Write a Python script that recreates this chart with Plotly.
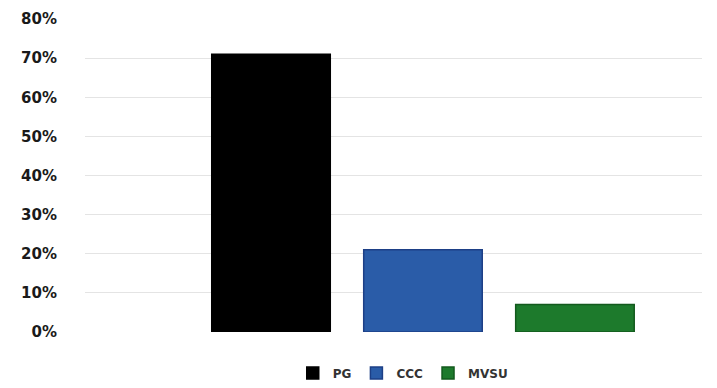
import plotly.graph_objects as go

# Share by institution
institutions = ["PG", "CCC", "MVSU"]
shares = [71, 21, 7]  # percent
fill_colors = ["#000000", "#2a5ca8", "#1d7a2c"]
edge_colors = ["#000000", "#1d3f86", "#135a1d"]
y_ticks = [0, 10, 20, 30, 40, 50, 60, 70, 80]
y_tick_labels = [f"{v}%" for v in y_ticks]

fig = go.Figure()
for name, val, fc, ec in zip(institutions, shares, fill_colors, edge_colors):
    fig.add_trace(go.Bar(
        x=[name], y=[val], name=name,
        width=0.78,
        marker=dict(color=fc, line=dict(color=ec, width=1.5)),
        hovertemplate="%{x}: %{y}%<extra></extra>",
    ))

fig.update_layout(
    width=717, height=388,
    margin=dict(l=85, r=15, t=19, b=56, autoexpand=False),
    paper_bgcolor="white", plot_bgcolor="white",
    barmode="overlay",
    font=dict(family="DejaVu Sans", size=14, color="#1a1a1a"),
    showlegend=True,
    legend=dict(
        orientation="h", x=0.515, xanchor="center", y=-0.131, yanchor="middle",
        font=dict(family="DejaVu Sans", size=12, color="#333333", weight="bold"),
        itemwidth=30, traceorder="normal",
    ),
    xaxis=dict(
        type="category", range=[-1.224, 2.836],
        showticklabels=False, showgrid=False, zeroline=False, showline=False,
    ),
    yaxis=dict(
        range=[0, 80], tickvals=y_ticks, ticktext=y_tick_labels,
        tickfont=dict(family="DejaVu Sans", size=15, color="#1a1a1a", weight="bold"),
        showgrid=True, gridcolor="#e4e4e4", gridwidth=1,
        zeroline=False, showline=False, ticks="",
        ticklabelstandoff=27, automargin=False,
    ),
)

fig.write_html("out.html")
